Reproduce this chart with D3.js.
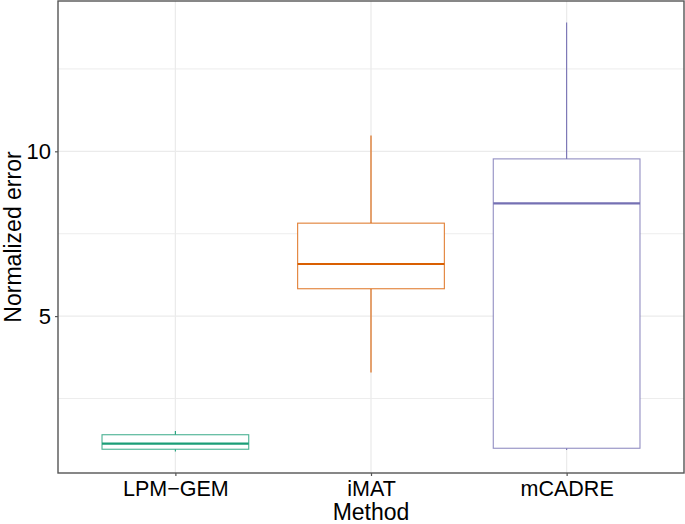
<!DOCTYPE html>
<html>
<head>
<meta charset="utf-8">
<script src="https://cdn.jsdelivr.net/npm/d3@7"></script>
<style>
  body { margin: 0; background: #fff; }
  text { font-family: "Liberation Sans", Arial, sans-serif; fill: #000; }
</style>
</head>
<body>
<div id="chart"></div>
<script>
// box statistics
const methods = ["LPM\u2212GEM", "iMAT", "mCADRE"];
const lowWhisker = [0.89, 3.29, 0.94];
const q1 = [0.96, 5.83, 0.99];
const median = [1.13, 6.58, 8.42];
const q3 = [1.40, 7.82, 9.77];
const highWhisker = [1.51, 10.48, 13.91];
const colors = ["#1B9E77", "#D95F02", "#7570B3"];
const yTicks = [5, 10];
const yMinor = [2.5, 7.5, 12.5];

const width = 685, height = 524;
const margin = { top: 1, right: 1, bottom: 51, left: 58 };
const w = width - margin.left - margin.right,
  h = height - margin.top - margin.bottom;

const svg = d3.select("#chart")
  .append("svg")
  .attr("width", width)
  .attr("height", height);

const g = svg.append("g")
  .attr("transform", `translate(${margin.left},${margin.top})`);

// y domain: data range with ggplot-style 5% expansion
const dMin = d3.min(lowWhisker), dMax = d3.max(highWhisker);
const pad = (dMax - dMin) * 0.05;
const y = d3.scaleLinear()
  .domain([dMin - pad, dMax + pad])
  .range([h, 0]);

// discrete x with 0.6 expansion
const x = d3.scaleLinear()
  .domain([0.4, methods.length + 0.6])
  .range([0, w]);
const boxW = (x(1) - x(0)) * 0.75;

// grid
g.selectAll(".minor")
  .data(yMinor)
  .enter().append("line")
  .attr("x1", 0).attr("x2", w)
  .attr("y1", d => y(d)).attr("y2", d => y(d))
  .attr("stroke", "#ebebeb").attr("stroke-width", 0.9);

g.selectAll(".major")
  .data(yTicks)
  .enter().append("line")
  .attr("x1", 0).attr("x2", w)
  .attr("y1", d => y(d)).attr("y2", d => y(d))
  .attr("stroke", "#ebebeb").attr("stroke-width", 1.3);

g.selectAll(".vgrid")
  .data(methods)
  .enter().append("line")
  .attr("x1", (d, i) => x(i + 1)).attr("x2", (d, i) => x(i + 1))
  .attr("y1", 0).attr("y2", h)
  .attr("stroke", "#ebebeb").attr("stroke-width", 1.3);

// boxes
methods.forEach(function (m, i) {
  const cx = x(i + 1);
  const c = colors[i];
  const bg = g.append("g");
  bg.append("line")
    .attr("x1", cx).attr("x2", cx)
    .attr("y1", y(highWhisker[i])).attr("y2", y(q3[i]))
    .attr("stroke", c).attr("stroke-width", 1.1);
  bg.append("line")
    .attr("x1", cx).attr("x2", cx)
    .attr("y1", y(q1[i])).attr("y2", y(lowWhisker[i]))
    .attr("stroke", c).attr("stroke-width", 1.1);
  bg.append("rect")
    .attr("x", cx - boxW / 2)
    .attr("y", y(q3[i]))
    .attr("width", boxW)
    .attr("height", y(q1[i]) - y(q3[i]))
    .attr("fill", "#fff")
    .attr("stroke", c).attr("stroke-opacity", 0.8)
    .attr("stroke-width", 1.1);
  bg.append("line")
    .attr("x1", cx - boxW / 2).attr("x2", cx + boxW / 2)
    .attr("y1", y(median[i])).attr("y2", y(median[i]))
    .attr("stroke", c).attr("stroke-width", 2.2);
});

// panel border
g.append("rect")
  .attr("x", 0).attr("y", 0)
  .attr("width", w).attr("height", h)
  .attr("fill", "none")
  .attr("stroke", "#555").attr("stroke-width", 1.4);

// y axis
const yAxis = g.append("g")
  .call(d3.axisLeft(y).tickValues(yTicks).tickSize(3).tickPadding(4));
yAxis.select(".domain").remove();
yAxis.selectAll(".tick line").attr("stroke", "#555").attr("stroke-width", 1.2);
yAxis.selectAll(".tick text").style("font-size", "22px").attr("fill", "#000");

// x axis
const xAxis = g.append("g")
  .attr("transform", `translate(0,${h})`)
  .call(d3.axisBottom(x).tickValues([1, 2, 3]).tickFormat(d => methods[d - 1]).tickSize(3).tickPadding(5));
xAxis.select(".domain").remove();
xAxis.selectAll(".tick line").attr("stroke", "#555").attr("stroke-width", 1.2);
xAxis.selectAll(".tick text").style("font-size", "21.5px").attr("fill", "#000");

// axis titles
svg.append("text")
  .attr("x", margin.left + w / 2)
  .attr("y", 520)
  .attr("text-anchor", "middle")
  .style("font-size", "23px")
  .text("Method");

svg.append("text")
  .attr("transform", `translate(21,${margin.top + h / 2}) rotate(-90)`)
  .attr("text-anchor", "middle")
  .style("font-size", "23px")
  .text("Normalized error");
</script>
</body>
</html>
